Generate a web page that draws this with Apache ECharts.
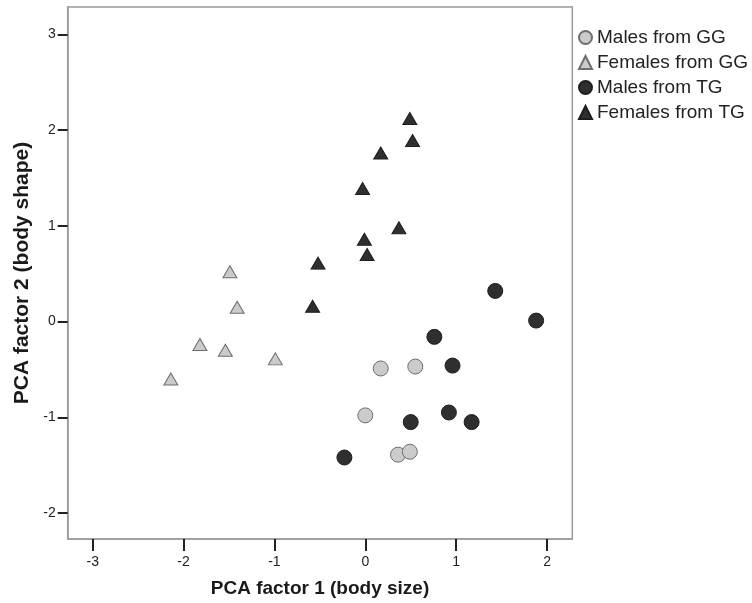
<!DOCTYPE html>
<html>
<head>
<meta charset="utf-8">
<script src="https://cdn.jsdelivr.net/npm/echarts@6/dist/echarts.min.js"></script>
<style>
  html, body { margin: 0; padding: 0; background: #fff; }
  #main { width: 752px; height: 603px; }
</style>
</head>
<body>
<div id="main"></div>
<script>
// PCA scores, [factor1, factor2]
const malesGG = [[0.00, -0.98], [0.17, -0.49], [0.55, -0.47], [0.36, -1.39], [0.49, -1.36]];
const femalesGG = [[-1.49, 0.52], [-1.41, 0.15], [-1.82, -0.24], [-1.54, -0.30], [-0.99, -0.39], [-2.14, -0.60]];
const malesTG = [[-0.23, -1.42], [1.88, 0.01], [0.76, -0.16], [0.96, -0.46], [0.50, -1.05], [0.92, -0.95], [1.17, -1.05], [1.43, 0.32]];
const femalesTG = [[0.49, 2.12], [0.52, 1.89], [0.17, 1.76], [-0.03, 1.39], [0.37, 0.98], [-0.01, 0.86], [0.02, 0.70], [-0.52, 0.61], [-0.58, 0.16]];

const xTicks = [-3, -2, -1, 0, 1, 2];
const yTicks = [-2, -1, 0, 1, 2, 3];

const font = '"Liberation Sans", Arial, sans-serif';
const light = { color: '#cbcbcb', borderColor: '#6e6e6e', borderWidth: 1, opacity: 1 };
const dark = { color: '#2f2f2f', borderColor: '#1e1e1e', borderWidth: 1, opacity: 1 };

const chart = echarts.init(document.getElementById('main'));

function axisCommon(ticks) {
  return {
    type: 'value',
    nameLocation: 'middle',
    nameTextStyle: { fontFamily: font, fontWeight: 'bold', color: '#1a1a1a' },
    splitLine: { show: false },
    axisLine: { show: true, onZero: false, lineStyle: { color: '#9a9a9a', width: 1.5 } },
    axisTick: { show: true, customValues: ticks, lineStyle: { color: '#222', width: 2 } },
    axisLabel: { customValues: ticks, fontFamily: font, fontSize: 14, color: '#222' }
  };
}

const xAxis = axisCommon(xTicks);
xAxis.min = -3.275;
xAxis.max = 2.278;
xAxis.name = 'PCA factor 1 (body size)';
xAxis.nameGap = 40;
xAxis.nameTextStyle.fontSize = 19;
xAxis.axisTick.length = 12;
xAxis.axisLabel.margin = 16;

const yAxis = axisCommon(yTicks);
yAxis.min = -2.271;
yAxis.max = 3.285;
yAxis.name = 'PCA factor 2 (body shape)';
yAxis.nameGap = 35;
yAxis.nameTextStyle.fontSize = 21;
yAxis.axisTick.length = 10;
yAxis.axisLabel.margin = 12;

chart.setOption({
  animation: false,
  backgroundColor: '#fff',
  grid: {
    left: 67.7, right: 179.7, top: 7, bottom: 63.7,
    show: true, borderColor: '#9a9a9a', borderWidth: 1.5
  },
  legend: {
    orient: 'vertical',
    left: 578,
    top: 28,
    padding: 0,
    itemWidth: 13,
    itemHeight: 13,
    itemGap: 6,
    textStyle: { fontFamily: font, fontSize: 19, color: '#222' },
    data: ['Males from GG', 'Females from GG', 'Males from TG', 'Females from TG']
  },
  xAxis: xAxis,
  yAxis: yAxis,
  series: [
    { name: 'Males from GG', type: 'scatter', symbol: 'circle', symbolSize: 15, itemStyle: light, data: malesGG },
    { name: 'Females from GG', type: 'scatter', symbol: 'triangle', symbolSize: [14, 12], itemStyle: light, data: femalesGG },
    { name: 'Males from TG', type: 'scatter', symbol: 'circle', symbolSize: 15, itemStyle: dark, data: malesTG },
    { name: 'Females from TG', type: 'scatter', symbol: 'triangle', symbolSize: [14, 12], itemStyle: dark, data: femalesTG }
  ]
});
</script>
</body>
</html>
